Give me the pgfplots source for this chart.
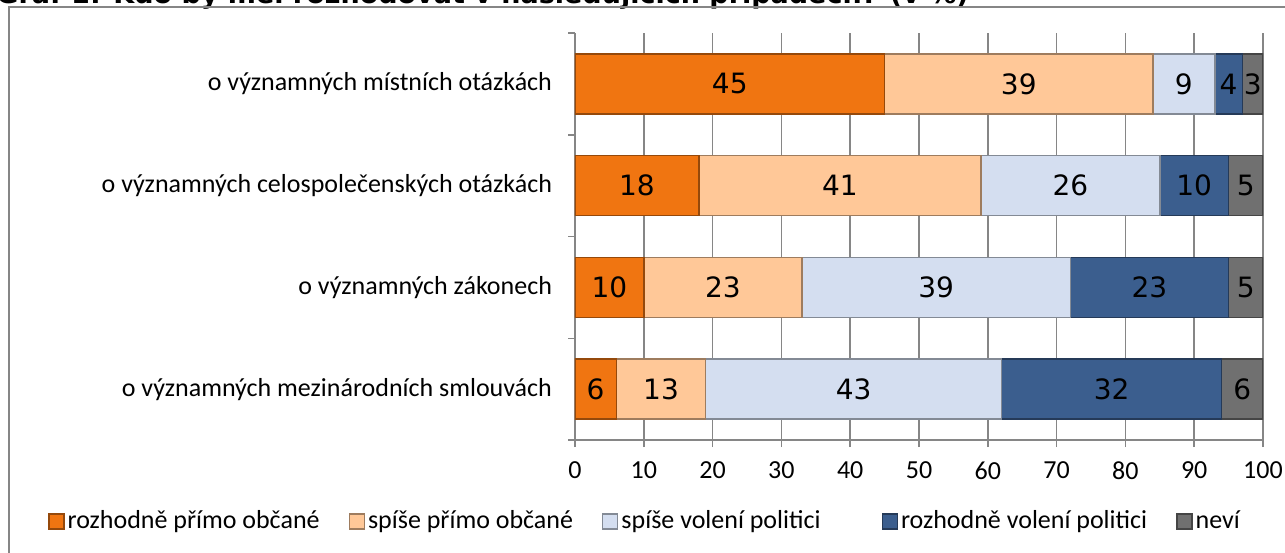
\documentclass[border=0pt]{standalone}
\usepackage{pgfplots}
\pgfplotsset{compat=1.18}
\usepackage{pgfplotstable}
\usepackage{fontspec}
\setmainfont{Carlito}
\newfontfamily\dejavu{DejaVu Sans}
\definecolor{cOr}{RGB}{240,117,17}
\definecolor{cPe}{RGB}{255,200,152}
\definecolor{cLb}{RGB}{212,222,240}
\definecolor{cDb}{RGB}{59,94,142}
\definecolor{cGr}{RGB}{112,112,112}
\definecolor{frm}{RGB}{134,134,134}

\pgfplotstableread{
pos a b c d e
0 6 13 43 32 6
1 10 23 39 23 5
2 18 41 26 10 5
3 45 39 9 4 3
}\data

\pgfplotsset{
  mybar/.style={fill=#1, draw=#1!62!black, line width=0.7pt,
    legend image code/.code={\draw[##1] (0pt,-3.75pt) rectangle (7.5pt,3.75pt);}},
  geom/.style={at={(287.5pt,56pt)}, anchor=south west,
    scale only axis, width=344pt, height=203.5pt,
    xmin=0, xmax=100, ymin=-0.5, ymax=3.5},
  lab/.style={draw=none, mark=none, nodes near coords, point meta=explicit},
}

\begin{document}
\begin{tikzpicture}
\useasboundingbox (0pt,0pt) rectangle (642.5pt,276pt);
\clip (0pt,0pt) rectangle (642.5pt,276pt);
\node[anchor=base west, inner sep=0pt, font=\dejavu\bfseries\fontsize{13.5}{15}\selectfont] at (-2pt,274.25pt) {Graf 1: Kdo by měl rozhodovat v následujících případech? (v \%)};
\draw[frm, line width=1pt] (4.5pt,-10pt) rectangle (660pt,272.25pt);
\begin{axis}[
  geom,
  xbar stacked, bar width=30pt,
  axis x line*=bottom, axis y line*=left,
  axis line style={frm, line width=0.75pt},
  xtick={0,10,...,100},
  xmajorgrids, major grid style={frm, line width=0.75pt},
  tick style={frm, line width=0.75pt},
  tick align=outside, major tick length=3.5pt,
  ytick={-0.5,0.5,1.5,2.5,3.5}, yticklabels={,,,,,},
  extra y ticks={0,1,2,3},
  extra y tick labels={o významných mezinárodních smlouvách, o významných zákonech, o významných celospolečenských otázkách, o významných místních otázkách},
  extra y tick style={tick style={draw=none}, yticklabel style={xshift=-4.5pt}},
  yticklabel style={font=\fontsize{13}{15}\selectfont, text=black},
  xticklabel style={font=\fontsize{13}{15}\selectfont, yshift=-4pt},
  /pgf/number format/assume math mode=true,
  legend style={at={(rel axis cs:0.1025,-0.2)}, anchor=center, draw=none, fill=none,
     font=\fontsize{13}{15}\selectfont, nodes={inner sep=1.5pt},
     /tikz/every even column/.append style={column sep=13pt}},
  legend columns=-1,
]
\addplot[mybar=cOr] table[x=a, y=pos] {\data};
\addplot[mybar=cPe] table[x=b, y=pos] {\data};
\addplot[mybar=cLb] table[x=c, y=pos] {\data};
\addplot[mybar=cDb] table[x=d, y=pos] {\data};
\addplot[mybar=cGr] table[x=e, y=pos] {\data};
\legend{rozhodně přímo občané, spíše přímo občané, spíše volení politici\kern16pt, rozhodně volení politici, neví}
\end{axis}
\begin{axis}[
  geom, hide axis, clip=false,
  /pgf/number format/assume math mode=true,
  every node near coord/.append style={anchor=center, font=\dejavu\fontsize{14}{16}\selectfont, text=black},
]
\addplot[lab] table[x expr=\thisrow{a}/2, y=pos, meta=a] {\data};
\addplot[lab] table[x expr=\thisrow{a}+\thisrow{b}/2, y=pos, meta=b] {\data};
\addplot[lab] table[x expr=\thisrow{a}+\thisrow{b}+\thisrow{c}/2, y=pos, meta=c] {\data};
\addplot[lab] table[x expr=\thisrow{a}+\thisrow{b}+\thisrow{c}+\thisrow{d}/2, y=pos, meta=d] {\data};
\addplot[lab] table[x expr=\thisrow{a}+\thisrow{b}+\thisrow{c}+\thisrow{d}+\thisrow{e}/2, y=pos, meta=e] {\data};
\end{axis}
\end{tikzpicture}
\end{document}
